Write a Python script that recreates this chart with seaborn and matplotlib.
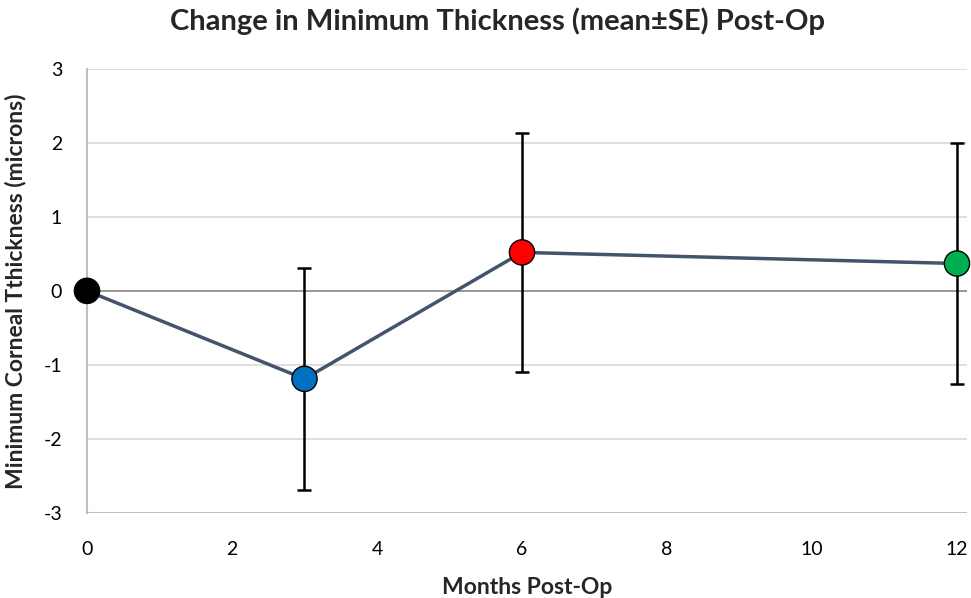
import matplotlib
matplotlib.use('Agg')
import matplotlib.pyplot as plt
import seaborn as sns
import pandas as pd

# Data
months = [0, 3, 6, 12]
mean_change = [0.0, -1.19, 0.52, 0.37]
se = [0.0, 1.50, 1.62, 1.63]
point_labels = ["0", "3", "6", "12"]
point_colors = ["#000000", "#0070C0", "#FF0000", "#00B050"]

x_ticks = [0, 2, 4, 6, 8, 10, 12]
y_ticks = [-3, -2, -1, 0, 1, 2, 3]

df = pd.DataFrame({"month": months, "change": mean_change, "se": se, "label": point_labels})

sns.set_style("white")
plt.rcParams['font.family'] = ['Lato', 'DejaVu Sans']
plt.rcParams['axes.unicode_minus'] = False

fig = plt.figure(figsize=(9.71, 5.98), dpi=100)
ax = fig.add_axes([0.0896, 0.1426, 0.9064, 0.742])

# grid lines
for y in y_ticks:
    if y == 0:
        ax.axhline(y, color="#868686", lw=1.2, zorder=1)
    elif y == -3:
        ax.axhline(y, color="#bfbfbf", lw=1.5, zorder=1)
    else:
        ax.axhline(y, color="#d9d9d9", lw=1.2, zorder=1)

sns.lineplot(data=df, x="month", y="change", color="#44546A", lw=2.5, ax=ax, zorder=2)
ax.errorbar(df["month"], df["change"], yerr=df["se"], fmt="none", ecolor="black",
            elinewidth=1.8, capsize=5, capthick=1.8, zorder=3)
sns.scatterplot(data=df, x="month", y="change", hue="label", palette=point_colors,
                s=330, edgecolor="black", linewidth=1, legend=False, ax=ax, zorder=4,
                clip_on=False)

ax.set_xlim(0, 12.14)
ax.set_ylim(-3, 3)
ax.set_xticks(x_ticks)
ax.set_yticks(y_ticks)
ax.tick_params(axis="both", length=0, labelsize=14, colors="#000000")
ax.tick_params(axis="x", pad=20)
ax.tick_params(axis="y", pad=18)

for s in ["top", "right", "bottom"]:
    ax.spines[s].set_visible(False)
ax.spines["left"].set_color("#bfbfbf")
ax.spines["left"].set_linewidth(1.5)

ax.set_xlabel("Months Post-Op", fontsize=16.5, fontweight="bold", labelpad=14)
ax.set_ylabel("Minimum Corneal Tthickness (microns)", fontsize=16.5, fontweight="bold", labelpad=12)
fig.suptitle("Change in Minimum Thickness (mean±SE) Post-Op", fontsize=21, fontweight="bold",
             x=0.512, y=0.988)

fig.savefig("out.png", dpi=100)
